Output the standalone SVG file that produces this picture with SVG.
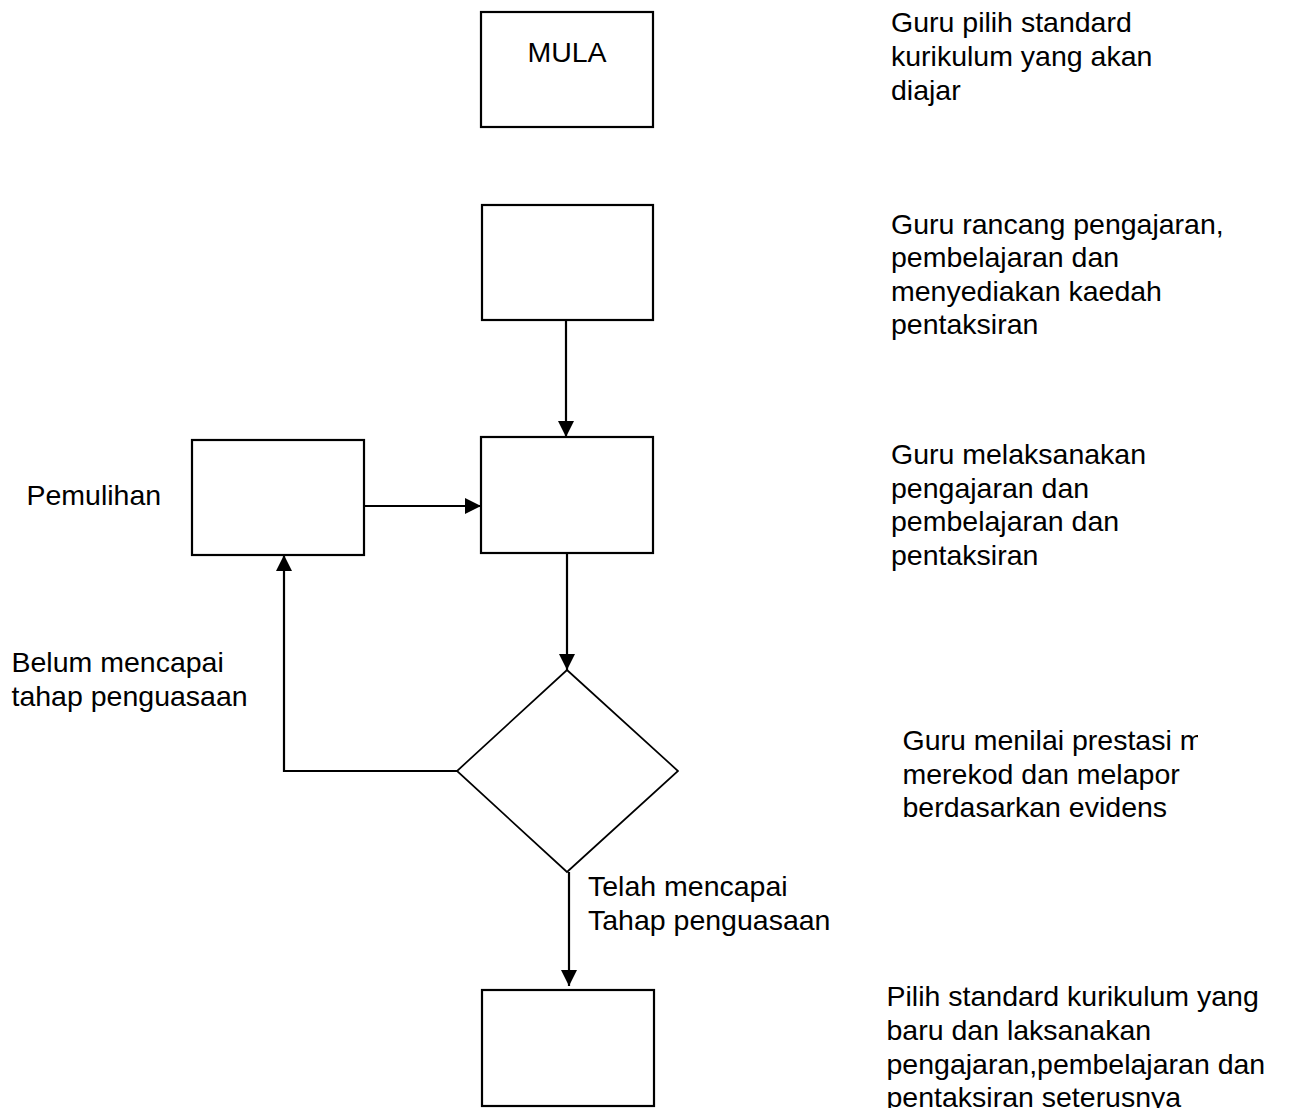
<svg xmlns="http://www.w3.org/2000/svg" width="1290" height="1108" viewBox="0 0 1290 1108">
<style>
.box{fill:#fff;stroke:#000;stroke-width:2.2}
.dia{fill:#fff;stroke:#000;stroke-width:1.7}
.ln{fill:none;stroke:#000;stroke-width:2.2}
text{font-family:"Liberation Sans",Arial,sans-serif;font-size:28.5px;fill:#000}
</style>
<defs>
<marker id="ah" markerUnits="userSpaceOnUse" markerWidth="16" markerHeight="16" viewBox="0 0 16 16" refX="16" refY="8" orient="auto">
<path d="M0,0 L16,8 L0,16 Z" fill="#000"/>
</marker>
<clipPath id="clip4"><rect x="880" y="720" width="318" height="120"/></clipPath>
</defs>
<rect width="1290" height="1108" fill="#fff"/>
<g id="connectors">
<line class="ln" x1="566" y1="320" x2="566" y2="437" marker-end="url(#ah)"/>
<line class="ln" x1="364" y1="506" x2="481" y2="506" marker-end="url(#ah)"/>
<line class="ln" x1="567" y1="553" x2="567" y2="670" marker-end="url(#ah)"/>
<polyline class="ln" points="457,771 284,771 284,555" marker-end="url(#ah)"/>
<line class="ln" x1="569" y1="872" x2="569" y2="986" marker-end="url(#ah)"/>
</g>
<g id="mula">
<rect class="box" x="481" y="12" width="172" height="115"/>
<text x="567" y="62" text-anchor="middle">MULA</text>
</g>
<g id="rancang">
<rect class="box" x="482" y="205" width="171" height="115"/>
</g>
<g id="laksana">
<rect class="box" x="481" y="437" width="172" height="116"/>
</g>
<g id="pemulihan">
<rect class="box" x="192" y="440" width="172" height="115"/>
</g>
<g id="keputusan">
<polygon class="dia" points="567,670 678,771 567,872 457,771"/>
</g>
<g id="seterusnya">
<rect class="box" x="482" y="990" width="172" height="116"/>
</g>
<g id="labels">
<text x="891" y="32">Guru pilih standard</text>
<text x="891" y="66">kurikulum yang akan</text>
<text x="891" y="99.5">diajar</text>
<text x="891" y="234">Guru rancang pengajaran,</text>
<text x="891" y="267">pembelajaran dan</text>
<text x="891" y="300.5">menyediakan kaedah</text>
<text x="891" y="334">pentaksiran</text>
<text x="891" y="464">Guru melaksanakan</text>
<text x="891" y="497.5">pengajaran dan</text>
<text x="891" y="531">pembelajaran dan</text>
<text x="891" y="564.5">pentaksiran</text>
<g clip-path="url(#clip4)">
<text x="902.5" y="749.5">Guru menilai prestasi murid,</text>
<text x="902.5" y="783.5">merekod dan melapor</text>
<text x="902.5" y="817">berdasarkan evidens</text>
</g>
<text x="886.5" y="1006">Pilih standard kurikulum yang</text>
<text x="886.5" y="1040">baru dan laksanakan</text>
<text x="886.5" y="1073.5">pengajaran,pembelajaran dan</text>
<text x="886.5" y="1107">pentaksiran seterusnya</text>
<text x="26.5" y="505">Pemulihan</text>
<text x="11.5" y="672">Belum mencapai</text>
<text x="11.5" y="705.5">tahap penguasaan</text>
<text x="588" y="896">Telah mencapai</text>
<text x="588" y="930">Tahap penguasaan</text>
</g>
</svg>
